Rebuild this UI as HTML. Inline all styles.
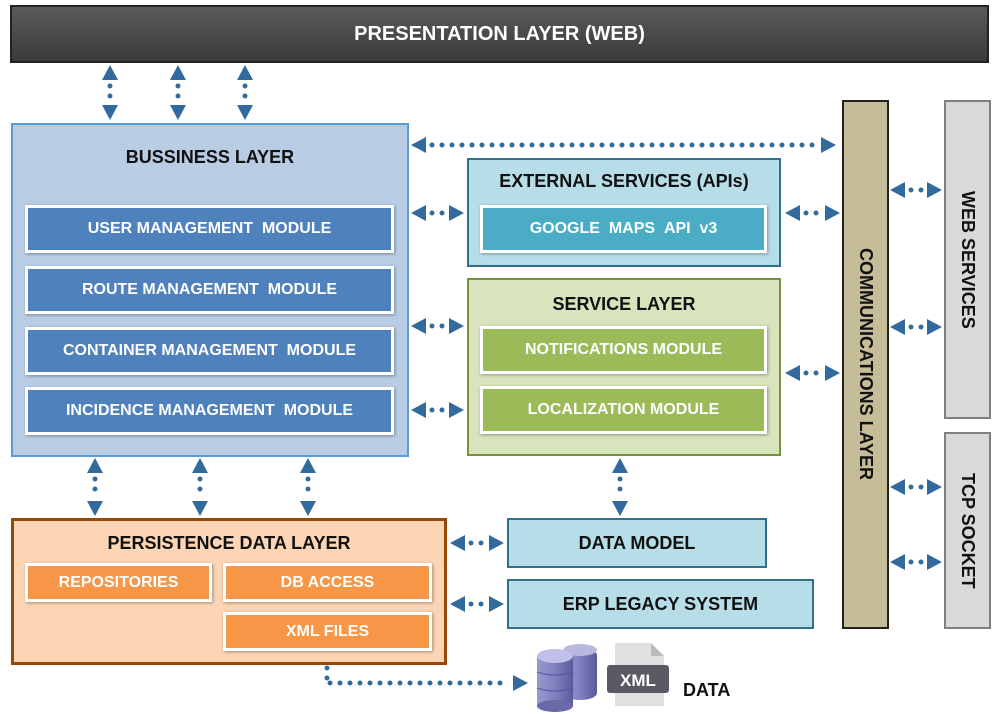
<!DOCTYPE html>
<html><head><meta charset="utf-8"><style>
body{margin:0;width:1000px;height:714px;background:#fff;position:relative;overflow:hidden;font-family:"Liberation Sans",sans-serif;font-weight:bold}
.b{position:absolute;box-sizing:border-box;display:flex;justify-content:center;align-items:center;text-align:center}
.t{position:absolute;text-align:center;font-size:18px;color:#111}
.m{position:absolute;box-sizing:border-box;border:3px solid #fff;box-shadow:1px 1px 3px rgba(0,0,0,.35);color:#fff;font-size:16px;display:flex;justify-content:center;align-items:center}
.v{writing-mode:vertical-rl;font-size:18px;color:#111}
</style></head><body>
<div class="b" style="left:10px;top:5px;width:979px;height:58px;background:linear-gradient(#5a5a5a,#3a3a3a);border:2px solid #222;color:#fff;font-size:20px">PRESENTATION LAYER (WEB)</div>

<div class="b" style="left:11px;top:123px;width:398px;height:334px;background:#b8cce4;border:2px solid #5b9bd5"></div>
<div class="t" style="left:11px;top:147px;width:398px">BUSSINESS LAYER</div>
<div class="m" style="left:25px;top:205px;width:369px;height:48px;background:#4f81bd">USER MANAGEMENT &nbsp;MODULE</div>
<div class="m" style="left:25px;top:266px;width:369px;height:48px;background:#4f81bd">ROUTE MANAGEMENT &nbsp;MODULE</div>
<div class="m" style="left:25px;top:327px;width:369px;height:48px;background:#4f81bd">CONTAINER MANAGEMENT &nbsp;MODULE</div>
<div class="m" style="left:25px;top:387px;width:369px;height:48px;background:#4f81bd">INCIDENCE MANAGEMENT &nbsp;MODULE</div>

<div class="b" style="left:467px;top:158px;width:314px;height:109px;background:#b7dde8;border:2px solid #31708a"></div>
<div class="t" style="left:467px;top:171px;width:314px">EXTERNAL SERVICES (APIs)</div>
<div class="m" style="left:480px;top:205px;width:287px;height:48px;background:#4bacc6">GOOGLE &nbsp;MAPS &nbsp;API &nbsp;v3</div>

<div class="b" style="left:467px;top:278px;width:314px;height:178px;background:#d7e4bc;border:2px solid #76923c"></div>
<div class="t" style="left:467px;top:294px;width:314px">SERVICE LAYER</div>
<div class="m" style="left:480px;top:326px;width:287px;height:48px;background:#9bbb59">NOTIFICATIONS MODULE</div>
<div class="m" style="left:480px;top:386px;width:287px;height:48px;background:#9bbb59">LOCALIZATION MODULE</div>

<div class="b" style="left:842px;top:100px;width:47px;height:529px;background:#c4bd97;border:2px solid #222"><span class="v">COMMUNICATIONS LAYER</span></div>
<div class="b" style="left:944px;top:100px;width:47px;height:319px;background:#d9d9d9;border:2px solid #7f7f7f"><span class="v">WEB SERVICES</span></div>
<div class="b" style="left:944px;top:432px;width:47px;height:197px;background:#d9d9d9;border:2px solid #7f7f7f"><span class="v">TCP SOCKET</span></div>

<div class="b" style="left:11px;top:518px;width:436px;height:147px;background:#fcd5b4;border:3px solid #974806"></div>
<div class="t" style="left:11px;top:533px;width:436px">PERSISTENCE DATA LAYER</div>
<div class="m" style="left:25px;top:563px;width:187px;height:39px;background:#f79646">REPOSITORIES</div>
<div class="m" style="left:223px;top:563px;width:209px;height:39px;background:#f79646">DB ACCESS</div>
<div class="m" style="left:223px;top:612px;width:209px;height:39px;background:#f79646">XML FILES</div>

<div class="b" style="left:507px;top:518px;width:260px;height:50px;background:#b7dde8;border:2px solid #31708a;font-size:18px;color:#111">DATA MODEL</div>
<div class="b" style="left:507px;top:579px;width:307px;height:50px;background:#b7dde8;border:2px solid #31708a;font-size:18px;color:#111">ERP LEGACY SYSTEM</div>

<div style="position:absolute;left:683px;top:680px;font-size:18px;color:#111">DATA</div>

<svg id="s" width="1000" height="714" style="position:absolute;left:0;top:0">
<defs><linearGradient id="g" x1="0" x2="1"><stop offset="0" stop-color="#9a9ad0"/><stop offset=".5" stop-color="#8080c0"/><stop offset="1" stop-color="#5a5a99"/></linearGradient></defs>
<g>
<rect x="563" y="648" width="34" height="52" rx="17" ry="7" fill="url(#g)"/>
<ellipse cx="580" cy="650" rx="17" ry="6" fill="#b8b8e0"/>
<rect x="537" y="656" width="36" height="50" fill="url(#g)"/>
<ellipse cx="555" cy="706" rx="18" ry="6" fill="#6a6aaa"/>
<ellipse cx="555" cy="656" rx="18" ry="7" fill="#c0c0e8"/>
<path d="M537 672q18 6 36 0M537 688q18 6 36 0" stroke="#5555a0" fill="none"/>
<path d="M615 643h36l13 13v50h-49z" fill="#e0e0e0"/>
<path d="M651 643v13h13z" fill="#bbb"/>
<rect x="607" y="665" width="62" height="28" rx="3" fill="#5a5a64"/>
<text x="638" y="686" text-anchor="middle" fill="#fff" font-size="17" font-family="Liberation Sans" font-weight="bold">XML</text>
</g>
</svg>
<script>
var s=document.getElementById('s'),ns='http://www.w3.org/2000/svg',C='#336a9e';
function el(t,a){var e=document.createElementNS(ns,t);for(var k in a)e.setAttribute(k,a[k]);s.appendChild(e);}
function dots(x1,y1,x2,y2){el('line',{x1:x1,y1:y1,x2:x2,y2:y2,stroke:C,'stroke-width':5,'stroke-linecap':'round','stroke-dasharray':'0 10'});}
function h(x1,x2,y,both){ if(both!==false)el('polygon',{points:x1+','+y+' '+(x1+15)+','+(y-8)+' '+(x1+15)+','+(y+8),fill:C});
 el('polygon',{points:x2+','+y+' '+(x2-15)+','+(y-8)+' '+(x2-15)+','+(y+8),fill:C});
 dots(x1+(both!==false?21:3),y,x2-19,y);}
function v(x,y1,y2){el('polygon',{points:x+','+y1+' '+(x-8)+','+(y1+15)+' '+(x+8)+','+(y1+15),fill:C});
 el('polygon',{points:x+','+y2+' '+(x-8)+','+(y2-15)+' '+(x+8)+','+(y2-15),fill:C});dots(x,y1+21,x,y2-19);}
[110,178,245].forEach(function(x){v(x,65,120)});
[95,200,308].forEach(function(x){v(x,458,516)});
v(620,458,516);
h(411,836,145);h(411,464,213);h(411,464,326);h(411,464,410);
h(785,840,213);h(785,840,373);
h(890,942,190);h(890,942,327);h(890,942,487);h(890,942,562);
h(450,504,543);h(450,504,604);
dots(327,668,327,683);h(327,528,683,false);
</script>
</body></html>
